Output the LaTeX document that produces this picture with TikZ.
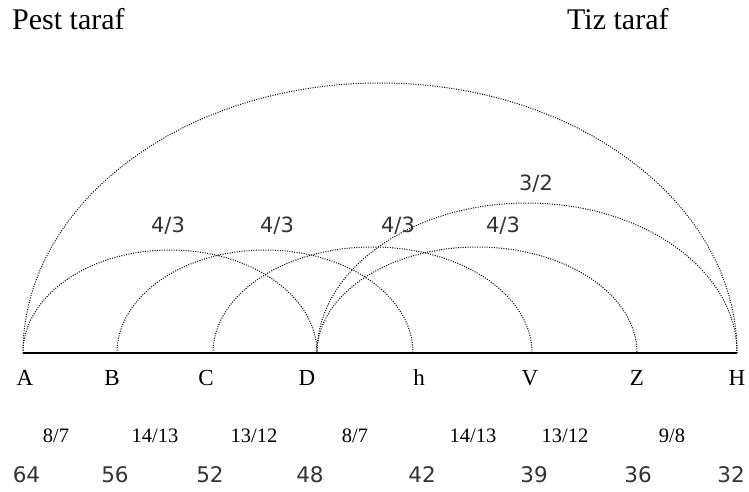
\documentclass[tikz,border=0pt]{standalone}
\usepackage{fontspec}
\setmainfont{Liberation Serif}
\newfontfamily\numfont{DejaVu Sans}
\begin{document}
\begin{tikzpicture}[x=1pt,y=1pt,
  arcline/.style={black, line width=1pt, dash pattern=on 1pt off 1.4pt},
  baseline/.style={black, line width=1.1pt},
  sidelbl/.style={anchor=base west, inner sep=0pt, font=\fontsize{30}{36}\selectfont},
  ptlbl/.style={anchor=base, inner sep=0pt, font=\fontsize{23}{27}\selectfont},
  steplbl/.style={anchor=base, inner sep=0pt, font=\fontsize{20.5}{24}\selectfont},
  numlbl/.style={anchor=base, inner sep=0pt, text=black!80, font=\numfont\fontsize{21.5}{25}\selectfont},
  ratlbl/.style={anchor=base, inner sep=0pt, text=black!80, font=\numfont\fontsize{21}{25}\selectfont}]
\useasboundingbox (0,0) rectangle (749,491);
% points on the string
\coordinate (pA) at (23,138);
\coordinate (pB) at (117,138);
\coordinate (pC) at (213,138);
\coordinate (pD) at (317,138);
\coordinate (ph) at (413,138);
\coordinate (pV) at (532,138);
\coordinate (pZ) at (637,138);
\coordinate (pH) at (737,138);
% titles
\node[sidelbl] (pest) at (12,461) {Pest taraf};
\node[sidelbl] (tiz) at (567,461) {Tiz taraf};
% base line
\draw[baseline] (pA) -- (pH);
% arcs
\draw[arcline] (pA) arc[start angle=180, end angle=0, x radius=357, y radius=270];
\draw[arcline] (pA) arc[start angle=180, end angle=0, x radius=147, y radius=103];
\draw[arcline] (pB) arc[start angle=180, end angle=0, x radius=148, y radius=103];
\draw[arcline] (pC) arc[start angle=180, end angle=0, x radius=159.5, y radius=106];
\draw[arcline] (pD) arc[start angle=180, end angle=0, x radius=160, y radius=106];
\draw[arcline] (pD) arc[start angle=180, end angle=0, x radius=210, y radius=150];
% ratio labels
\node[ratlbl] (r1) at (168,258.5) {4/3};
\node[ratlbl] (r2) at (277,258.5) {4/3};
\node[ratlbl] (r3) at (398,258.5) {4/3};
\node[ratlbl] (r4) at (503,258.5) {4/3};
\node[ratlbl] (r5) at (536,300.5) {3/2};
% point letters
\node[ptlbl] (lA) at (25,106) {A};
\node[ptlbl] (lB) at (112,106) {B};
\node[ptlbl] (lC) at (206,106) {C};
\node[ptlbl] (lD) at (307,106) {D};
\node[ptlbl] (lh) at (419,106) {h};
\node[ptlbl] (lV) at (530,106) {V};
\node[ptlbl] (lZ) at (637,106) {Z};
\node[ptlbl] (lH) at (737,106) {H};
% step ratios
\node[steplbl] (s1) at (56,49) {8/7};
\node[steplbl] (s2) at (155,49) {14/13};
\node[steplbl] (s3) at (254,49) {13/12};
\node[steplbl] (s4) at (355,49) {8/7};
\node[steplbl] (s5) at (473,49) {14/13};
\node[steplbl] (s6) at (565,49) {13/12};
\node[steplbl] (s7) at (672,49) {9/8};
% string lengths
\node[numlbl] (n1) at (26.5,9) {64};
\node[numlbl] (n2) at (115,9) {56};
\node[numlbl] (n3) at (210,9) {52};
\node[numlbl] (n4) at (310,9) {48};
\node[numlbl] (n5) at (422,9) {42};
\node[numlbl] (n6) at (534,9) {39};
\node[numlbl] (n7) at (638,9) {36};
\node[numlbl] (n8) at (731,9) {32};
\end{tikzpicture}
\end{document}
